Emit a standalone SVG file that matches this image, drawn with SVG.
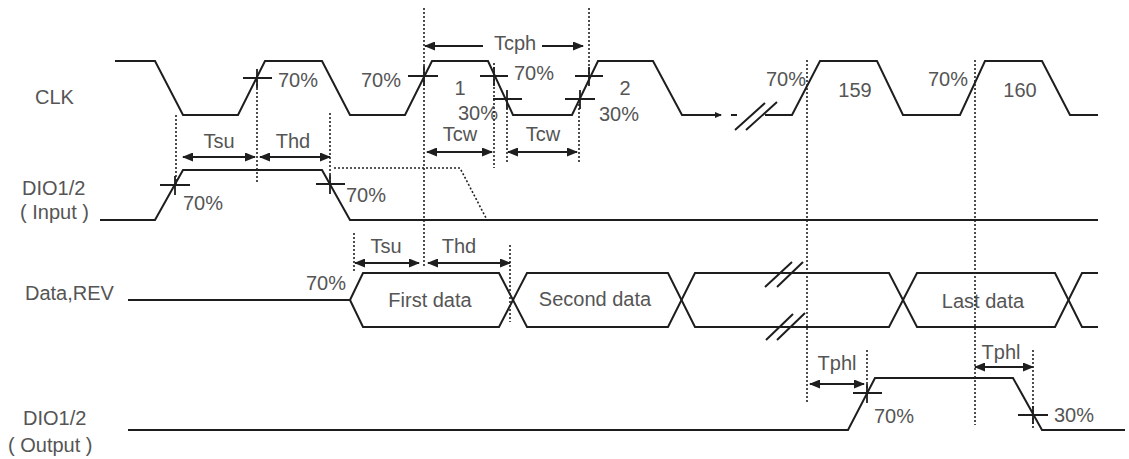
<svg xmlns="http://www.w3.org/2000/svg" width="1129" height="459" viewBox="0 0 1129 459">
<style>
.w{fill:none;stroke:#1e1e1e;stroke-width:2;stroke-linejoin:miter}
.d{fill:none;stroke:#222;stroke-width:1.6;stroke-dasharray:2 2}
.k{fill:none;stroke:#1e1e1e;stroke-width:1.8}
.a{fill:none;stroke:#1e1e1e;stroke-width:2;marker-start:url(#ah);marker-end:url(#ah)}
.t{font-family:"Liberation Sans",Arial,sans-serif;font-size:20px;fill:#555}
.m{text-anchor:middle}
</style>
<defs>
<marker id="ah" markerUnits="userSpaceOnUse" markerWidth="11" markerHeight="9" refX="10" refY="4.5" orient="auto-start-reverse"><path d="M0,0 L11,4.5 L0,9 z" fill="#1e1e1e"/></marker>
<marker id="sa" markerUnits="userSpaceOnUse" markerWidth="7" markerHeight="6" refX="6" refY="3" orient="auto"><path d="M0,0 L7,3 L0,6 z" fill="#1e1e1e"/></marker>
</defs>
<rect width="1129" height="459" fill="#fff"/>

<g id="labels">
<text class="t" x="35" y="104">CLK</text>
<text class="t" x="22" y="195">DIO1/2</text>
<text class="t" x="20" y="219">( Input )</text>
<text class="t" x="25" y="300">Data,REV</text>
<text class="t" x="23" y="425">DIO1/2</text>
<text class="t" x="8" y="452">( Output )</text>
</g>

<g id="clk">
<path class="w" d="M115,61 L155,61 L183,115 L238,115 L265,61 L322,61 L350,115 L405,115 L432,61 L488,61 L513,115 L572,115 L598,61 L653,61 L682,115 L721,115" marker-end="url(#sa)"/>
<path class="w" d="M731,115 L737,115"/>
<path class="w" d="M735,130 L765,103 M746,130 L777,102"/>
<path class="w" d="M765,115 L792,115 L820,61 L877,61 L903,115 L960,115 L985,61 L1042,61 L1070,115 L1098,115"/>
<text class="t" x="278" y="87">70%</text>
<text class="t" x="361" y="87">70%</text>
<text class="t m" x="460" y="95">1</text>
<text class="t" x="514" y="80">70%</text>
<text class="t" x="458" y="120">30%</text>
<text class="t m" x="625" y="95">2</text>
<text class="t" x="599" y="121">30%</text>
<text class="t" x="766" y="86">70%</text>
<text class="t m" x="855" y="97">159</text>
<text class="t" x="928" y="86">70%</text>
<text class="t m" x="1020" y="97">160</text>
</g>

<g id="dio-input">
<path class="w" d="M100,220 L155,220 L183,170 L322,170 L350,220 L1098,220"/>
<path class="d" d="M334,168 L460,168 L486,218"/>
<text class="t" x="183" y="210">70%</text>
<text class="t" x="346" y="202">70%</text>
</g>

<g id="data-rev">
<path class="w" d="M128,300 L350,300"/>
<path class="w" d="M350,300 L363,273 L499,273 L527,327 L668,327 L695,273 L889,273 L917,327 L1055,327 L1082,273 L1098,273"/>
<path class="w" d="M350,300 L363,327 L499,327 L527,273 L668,273 L695,327 L889,327 L917,273 L1055,273 L1082,327 L1098,327"/>
<path class="w" d="M765,287 L792,262 M777,287 L803,262 M766,340 L793,314 M777,340 L805,313"/>
<text class="t" x="306" y="290">70%</text>
<text class="t m" x="430" y="307">First data</text>
<text class="t m" x="595" y="306">Second data</text>
<text class="t m" x="983" y="308">Last data</text>
</g>

<g id="dio-output">
<path class="w" d="M128,430 L848,430 L875,378 L1013,378 L1042,430 L1125,430"/>
<text class="t" x="874" y="423">70%</text>
<text class="t" x="1054" y="422">30%</text>
</g>

<g id="connectors">
<path class="d" d="M176,115 V185 M257,80 V183 M330,113 V185 M424,8 V268 M494,63 V168 M507,100 V163 M579,100 V163 M589,8 V77 M354,233 V273 M510,245 V322 M807,60 V402 M867,350 V395 M975,60 V425 M1033,350 V430"/>
<path class="k" d="M243,78 H272 M257,69 V88 M160,185 H190 M175,176 V195 M316,184 H345 M330,175 V194 M408,76 H438 M424,66 V86 M480,76 H508 M494,67 V86 M493,99 H522 M507,90 V109 M565,99 H595 M580,90 V109 M575,76 H603 M589,67 V86 M853,393 H882 M867,384 V403 M1018,415 H1048 M1033,406 V424"/>
<line class="a" x1="183" y1="157" x2="255" y2="157"/>
<line class="a" x1="260" y1="157" x2="330" y2="157"/>
<path d="M483,46 H425" class="w" marker-end="url(#ah)"/>
<path d="M542,46 H583" class="w" marker-end="url(#ah)"/>
<line class="a" x1="427" y1="152" x2="492" y2="152"/>
<line class="a" x1="508" y1="152" x2="577" y2="152"/>
<line class="a" x1="355" y1="263" x2="419" y2="263"/>
<line class="a" x1="428" y1="263" x2="510" y2="263"/>
<line class="a" x1="810" y1="384" x2="864" y2="384"/>
<line class="a" x1="975" y1="367" x2="1033" y2="367"/>
<text class="t m" x="515" y="50">Tcph</text>
<text class="t m" x="460" y="141">Tcw</text>
<text class="t m" x="543" y="141">Tcw</text>
<text class="t m" x="219" y="148">Tsu</text>
<text class="t m" x="293" y="148">Thd</text>
<text class="t m" x="386" y="253">Tsu</text>
<text class="t m" x="459" y="253">Thd</text>
<text class="t m" x="837" y="370">Tphl</text>
<text class="t m" x="1001" y="359">Tphl</text>
</g>
</svg>
